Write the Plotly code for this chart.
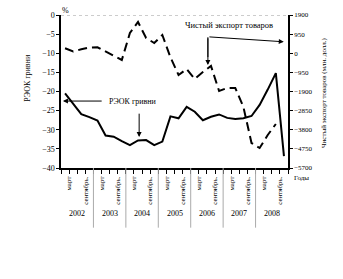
import plotly.graph_objects as go

# ---- data ----
years = [2002, 2003, 2004, 2005, 2006, 2007, 2008]
quarter_pos = [y + (q - 0.5) / 4 for y in years for q in range(1, 5)]
reok = [-20.5, -23.3, -25.9, -26.7, -27.6, -31.5, -31.8, -33.0,
        -34.0, -32.8, -32.7, -34.0, -33.1, -26.5, -27.0, -24.0,
        -25.3, -27.5, -26.6, -26.0, -26.9, -27.2, -27.0, -26.4,
        -23.5, -19.5, -15.2, -36.9]
net_export = [246, 87, 196, 286, 296, 87, -136, -335,
              1006, 1552, 758, 509, 907, -200, -1080, -782,
              -1279, -931, -633, -1875, -1726, -1726, -2670, -4458,
              -4706, -4060, -3514, None]
left_ticks = [0, -5, -10, -15, -20, -25, -30, -35, -40]
right_ticks = [1900, 950, 0, -950, -1900, -2850, -3800, -4750, -5700]
right_ticktext = ["1900", "950", "0", "\u2212950", "\u22121900", "\u22122850",
                  "\u22123800", "\u22124750", "\u22125700"]
month_labels = ["", "март", "", "сентябрь."]

FONT = "Liberation Serif"
BLACK = "black"

xtickvals = [y + k / 4 for y in years for k in range(4)] + [2009]
xticktext = [month_labels[k] for y in years for k in range(4)] + [""]

fig = go.Figure()
fig.add_trace(go.Scatter(x=quarter_pos, y=reok, mode="lines",
                         line=dict(color=BLACK, width=2), yaxis="y",
                         showlegend=False))
fig.add_trace(go.Scatter(x=quarter_pos, y=net_export, mode="lines",
                         line=dict(color=BLACK, width=2, dash="9px,5px"),
                         yaxis="y2", showlegend=False, connectgaps=False))

fig.update_layout(
    width=343, height=279,
    margin=dict(l=61, r=55, t=15, b=111),
    paper_bgcolor="white", plot_bgcolor="white",
    font=dict(family=FONT, size=8, color=BLACK),
    xaxis=dict(range=[2002, 2009], tickvals=xtickvals, ticktext=xticktext,
               tickangle=-90, ticks="outside", ticklen=4, tickwidth=1,
               tickcolor=BLACK, showline=True, linecolor=BLACK,
               linewidth=1.5, showgrid=False, zeroline=False,
               tickfont=dict(family=FONT, size=7, color=BLACK)),
    yaxis=dict(range=[-40, 0], tickvals=left_ticks, ticks="outside",
               ticklen=3, tickcolor=BLACK, showline=True,
               linecolor=BLACK, linewidth=1.5, showgrid=False,
               zeroline=False, tickfont=dict(family=FONT, size=8, color=BLACK)),
    yaxis2=dict(range=[-5700, 1900], tickvals=right_ticks,
                ticktext=right_ticktext, overlaying="y", side="right",
                anchor="x", ticks="outside", ticklen=3, tickcolor=BLACK,
                showline=True, linecolor=BLACK, linewidth=1.5,
                showgrid=False, zeroline=False,
                tickfont=dict(family=FONT, size=7, color=BLACK)),
)

shapes = [dict(type="line", xref="x", yref="y", x0=2002, x1=2009, y0=0, y1=0,
               line=dict(color="#999999", width=1, dash="dot"))]
for y in years[1:]:
    shapes.append(dict(type="line", xref="x", yref="paper", x0=y, x1=y,
                       y0=0, y1=-0.39, line=dict(color="#aaaaaa", width=1)))
# corner line for net export callout
shapes.append(dict(type="line", xref="x", yref="y", x0=2006.53, x1=2006.53,
                   y0=-5.8, y1=-11.0, line=dict(color=BLACK, width=1)))
fig.update_layout(shapes=shapes)

ann = []
for y in years:
    ann.append(dict(x=y + 0.5, y=-0.34, xref="x", yref="paper", text=str(y),
                    showarrow=False, font=dict(family=FONT, size=8, color=BLACK)))
ann += [
    dict(x=-0.004, y=1.072, xref="paper", yref="paper", text="%",
         showarrow=False, font=dict(family=FONT, size=8, color=BLACK)),
    dict(x=1.018, y=-0.105, xref="paper", yref="paper", text="Годы",
         showarrow=False, xanchor="left",
         font=dict(family=FONT, size=7, color=BLACK)),
    dict(x=-0.18, y=0.588, xref="paper", yref="paper", text="РЭОК гривни",
         textangle=-90, showarrow=False,
         font=dict(family=FONT, size=8, color=BLACK)),
    dict(x=1.185, y=0.497, xref="paper", yref="paper",
         text="Чистый экспорт товаров (млн. долл.)",
         textangle=-90, showarrow=False,
         font=dict(family=FONT, size=7, color=BLACK)),
    dict(x=2003.42, y=-22.5, xref="x", yref="y", text="РЭОК гривни",
         xanchor="left", showarrow=False,
         font=dict(family=FONT, size=8, color=BLACK)),
    dict(x=2002.06, y=-22.5, ax=2003.30, ay=-22.5, xref="x", yref="y",
         axref="x", ayref="y", text="", showarrow=True, arrowhead=2,
         arrowsize=1, arrowwidth=1, arrowcolor=BLACK),
    dict(x=2004.41, y=-31.9, ax=2004.41, ay=-25.4, xref="x", yref="y",
         axref="x", ayref="y", text="", showarrow=True, arrowhead=2,
         arrowsize=1, arrowwidth=1, arrowcolor=BLACK),
    dict(x=2007.18, y=-2.6, xref="x", yref="y", text="Чистый экспорт товаров",
         showarrow=False, font=dict(family=FONT, size=8.5, color=BLACK)),
    dict(x=2006.53, y=-13.1, ax=2006.53, ay=-5.7, xref="x", yref="y",
         axref="x", ayref="y", text="", showarrow=True, arrowhead=2,
         arrowsize=1, arrowwidth=1, arrowcolor=BLACK),
    dict(x=2008.87, y=-7.0, ax=2006.53, ay=-5.7, xref="x", yref="y",
         axref="x", ayref="y", text="", showarrow=True, arrowhead=2,
         arrowsize=1, arrowwidth=1, arrowcolor=BLACK),
]
fig.update_layout(annotations=ann)

fig.write_html("out.html")
